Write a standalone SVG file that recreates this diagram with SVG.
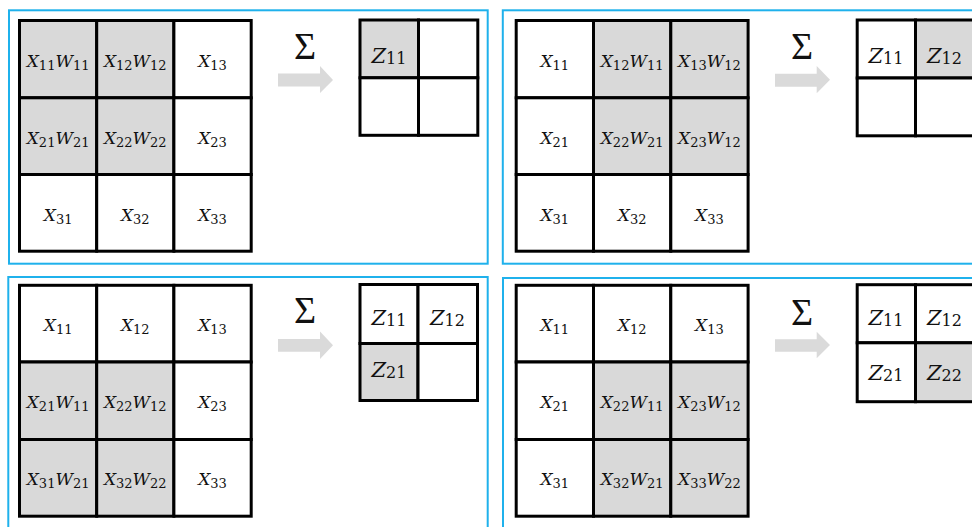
<svg xmlns="http://www.w3.org/2000/svg" width="972" height="527" viewBox="0 0 972 527">
<style>
.panel{fill:#ffffff;stroke:#1fb1ec;stroke-width:2}
.c rect{stroke:#000;stroke-width:3}
.w{fill:#ffffff}
.g{fill:#d9d9d9}
text{font-family:"DejaVu Serif","Liberation Serif",serif;fill:#111}
.t{font-size:17px;font-style:italic;text-anchor:middle}
.t tspan.s{font-size:13px;font-style:normal}
.z{font-size:21px;font-style:italic;text-anchor:middle}
.z tspan.s{font-size:16px;font-style:normal}
.sig{font-family:"Liberation Serif",serif;font-size:38px;text-anchor:middle}
.arr{fill:#dadada}
</style>
<rect width="972" height="527" fill="#fff"/>
<g id="panel1">
<rect class="panel" x="9" y="10.3" width="478.7" height="253.4"/>
<g id="p1-grid" class="c">
<g id="p1-r1c1"><rect class="g" x="19.5" y="20.5" width="77.2" height="77.3"/><text class="t" x="58.1" y="67">X<tspan class="s" dy="3">11</tspan><tspan dy="-3">W</tspan><tspan class="s" dy="3">11</tspan></text></g>
<g id="p1-r1c2"><rect class="g" x="96.7" y="20.5" width="77.2" height="77.3"/><text class="t" x="135.3" y="67">X<tspan class="s" dy="3">12</tspan><tspan dy="-3">W</tspan><tspan class="s" dy="3">12</tspan></text></g>
<g id="p1-r1c3"><rect class="w" x="173.9" y="20.5" width="77.3" height="77.3"/><text class="t" x="212.5" y="67">X<tspan class="s" dy="3">13</tspan></text></g>
<g id="p1-r2c1"><rect class="g" x="19.5" y="97.8" width="77.2" height="76.7"/><text class="t" x="58.1" y="144">X<tspan class="s" dy="3">21</tspan><tspan dy="-3">W</tspan><tspan class="s" dy="3">21</tspan></text></g>
<g id="p1-r2c2"><rect class="g" x="96.7" y="97.8" width="77.2" height="76.7"/><text class="t" x="135.3" y="144">X<tspan class="s" dy="3">22</tspan><tspan dy="-3">W</tspan><tspan class="s" dy="3">22</tspan></text></g>
<g id="p1-r2c3"><rect class="w" x="173.9" y="97.8" width="77.3" height="76.7"/><text class="t" x="212.5" y="144">X<tspan class="s" dy="3">23</tspan></text></g>
<g id="p1-r3c1"><rect class="w" x="19.5" y="174.5" width="77.2" height="76.7"/><text class="t" x="58.1" y="221">X<tspan class="s" dy="3">31</tspan></text></g>
<g id="p1-r3c2"><rect class="w" x="96.7" y="174.5" width="77.2" height="76.7"/><text class="t" x="135.3" y="221">X<tspan class="s" dy="3">32</tspan></text></g>
<g id="p1-r3c3"><rect class="w" x="173.9" y="174.5" width="77.3" height="76.7"/><text class="t" x="212.5" y="221">X<tspan class="s" dy="3">33</tspan></text></g>
</g>
<text class="sig" x="305" y="59">Σ</text>
<g id="p1-z" class="c">
<g id="p1-z11"><rect class="g" x="360" y="20" width="58.5" height="57.8"/><text class="z" x="389" y="63">Z<tspan class="s" dy="1">11</tspan></text></g>
<rect class="w" x="418.5" y="20" width="59.3" height="57.8"/>
<rect class="w" x="360" y="77.8" width="58.5" height="57.5"/>
<rect class="w" x="418.5" y="77.8" width="59.3" height="57.5"/>
</g>
</g>
<g id="panel2">
<rect class="panel" x="502.8" y="10.3" width="480" height="253.4"/>
<g id="p2-grid" class="c">
<g id="p2-r1c1"><rect class="w" x="516.2" y="20.5" width="77.3" height="77.3"/><text class="t" x="554.8" y="67">X<tspan class="s" dy="3">11</tspan></text></g>
<g id="p2-r1c2"><rect class="g" x="593.5" y="20.5" width="77.3" height="77.3"/><text class="t" x="632.1" y="67">X<tspan class="s" dy="3">12</tspan><tspan dy="-3">W</tspan><tspan class="s" dy="3">11</tspan></text></g>
<g id="p2-r1c3"><rect class="g" x="670.8" y="20.5" width="77.3" height="77.3"/><text class="t" x="709.4" y="67">X<tspan class="s" dy="3">13</tspan><tspan dy="-3">W</tspan><tspan class="s" dy="3">12</tspan></text></g>
<g id="p2-r2c1"><rect class="w" x="516.2" y="97.8" width="77.3" height="76.7"/><text class="t" x="554.8" y="144">X<tspan class="s" dy="3">21</tspan></text></g>
<g id="p2-r2c2"><rect class="g" x="593.5" y="97.8" width="77.3" height="76.7"/><text class="t" x="632.1" y="144">X<tspan class="s" dy="3">22</tspan><tspan dy="-3">W</tspan><tspan class="s" dy="3">21</tspan></text></g>
<g id="p2-r2c3"><rect class="g" x="670.8" y="97.8" width="77.3" height="76.7"/><text class="t" x="709.4" y="144">X<tspan class="s" dy="3">23</tspan><tspan dy="-3">W</tspan><tspan class="s" dy="3">12</tspan></text></g>
<g id="p2-r3c1"><rect class="w" x="516.2" y="174.5" width="77.3" height="76.7"/><text class="t" x="554.8" y="221">X<tspan class="s" dy="3">31</tspan></text></g>
<g id="p2-r3c2"><rect class="w" x="593.5" y="174.5" width="77.3" height="76.7"/><text class="t" x="632.1" y="221">X<tspan class="s" dy="3">32</tspan></text></g>
<g id="p2-r3c3"><rect class="w" x="670.8" y="174.5" width="77.3" height="76.7"/><text class="t" x="709.4" y="221">X<tspan class="s" dy="3">33</tspan></text></g>
</g>
<text class="sig" x="802" y="59">Σ</text>
<g id="p2-z" class="c">
<g id="p2-z11"><rect class="w" x="857.2" y="20" width="58.3" height="58"/><text class="z" x="886" y="63">Z<tspan class="s" dy="1">11</tspan></text></g>
<g id="p2-z12"><rect class="g" x="915.5" y="20" width="58.3" height="58"/><text class="z" x="944.5" y="63">Z<tspan class="s" dy="1">12</tspan></text></g>
<rect class="w" x="857.2" y="78" width="58.3" height="57.8"/>
<rect class="w" x="915.5" y="78" width="58.3" height="57.8"/>
</g>
</g>
<g id="panel3">
<rect class="panel" x="8.3" y="277" width="479.4" height="262"/>
<g id="p3-grid" class="c">
<g id="p3-r1c1"><rect class="w" x="19.5" y="285.3" width="77.2" height="76.7"/><text class="t" x="58.1" y="331">X<tspan class="s" dy="3">11</tspan></text></g>
<g id="p3-r1c2"><rect class="w" x="96.7" y="285.3" width="77.2" height="76.7"/><text class="t" x="135.3" y="331">X<tspan class="s" dy="3">12</tspan></text></g>
<g id="p3-r1c3"><rect class="w" x="173.9" y="285.3" width="77.3" height="76.7"/><text class="t" x="212.5" y="331">X<tspan class="s" dy="3">13</tspan></text></g>
<g id="p3-r2c1"><rect class="g" x="19.5" y="362" width="77.2" height="77.5"/><text class="t" x="58.1" y="408">X<tspan class="s" dy="3">21</tspan><tspan dy="-3">W</tspan><tspan class="s" dy="3">11</tspan></text></g>
<g id="p3-r2c2"><rect class="g" x="96.7" y="362" width="77.2" height="77.5"/><text class="t" x="135.3" y="408">X<tspan class="s" dy="3">22</tspan><tspan dy="-3">W</tspan><tspan class="s" dy="3">12</tspan></text></g>
<g id="p3-r2c3"><rect class="w" x="173.9" y="362" width="77.3" height="77.5"/><text class="t" x="212.5" y="408">X<tspan class="s" dy="3">23</tspan></text></g>
<g id="p3-r3c1"><rect class="g" x="19.5" y="439.5" width="77.2" height="76.7"/><text class="t" x="58.1" y="485">X<tspan class="s" dy="3">31</tspan><tspan dy="-3">W</tspan><tspan class="s" dy="3">21</tspan></text></g>
<g id="p3-r3c2"><rect class="g" x="96.7" y="439.5" width="77.2" height="76.7"/><text class="t" x="135.3" y="485">X<tspan class="s" dy="3">32</tspan><tspan dy="-3">W</tspan><tspan class="s" dy="3">22</tspan></text></g>
<g id="p3-r3c3"><rect class="w" x="173.9" y="439.5" width="77.3" height="76.7"/><text class="t" x="212.5" y="485">X<tspan class="s" dy="3">33</tspan></text></g>
</g>
<text class="sig" x="305" y="323">Σ</text>
<g id="p3-z" class="c">
<g id="p3-z11"><rect class="w" x="360" y="284.5" width="58" height="59"/><text class="z" x="389" y="325">Z<tspan class="s" dy="1">11</tspan></text></g>
<g id="p3-z12"><rect class="w" x="418" y="284.5" width="59.5" height="59"/><text class="z" x="447.5" y="325">Z<tspan class="s" dy="1">12</tspan></text></g>
<g id="p3-z21"><rect class="g" x="360" y="343.5" width="58" height="57"/><text class="z" x="389" y="377">Z<tspan class="s" dy="1">21</tspan></text></g>
<rect class="w" x="418" y="343.5" width="59.5" height="57"/>
</g>
</g>
<g id="panel4">
<rect class="panel" x="503" y="278" width="480" height="262"/>
<g id="p4-grid" class="c">
<g id="p4-r1c1"><rect class="w" x="516.2" y="285.3" width="77.3" height="76.7"/><text class="t" x="554.8" y="331">X<tspan class="s" dy="3">11</tspan></text></g>
<g id="p4-r1c2"><rect class="w" x="593.5" y="285.3" width="77.3" height="76.7"/><text class="t" x="632.1" y="331">X<tspan class="s" dy="3">12</tspan></text></g>
<g id="p4-r1c3"><rect class="w" x="670.8" y="285.3" width="77.3" height="76.7"/><text class="t" x="709.4" y="331">X<tspan class="s" dy="3">13</tspan></text></g>
<g id="p4-r2c1"><rect class="w" x="516.2" y="362" width="77.3" height="77.5"/><text class="t" x="554.8" y="408">X<tspan class="s" dy="3">21</tspan></text></g>
<g id="p4-r2c2"><rect class="g" x="593.5" y="362" width="77.3" height="77.5"/><text class="t" x="632.1" y="408">X<tspan class="s" dy="3">22</tspan><tspan dy="-3">W</tspan><tspan class="s" dy="3">11</tspan></text></g>
<g id="p4-r2c3"><rect class="g" x="670.8" y="362" width="77.3" height="77.5"/><text class="t" x="709.4" y="408">X<tspan class="s" dy="3">23</tspan><tspan dy="-3">W</tspan><tspan class="s" dy="3">12</tspan></text></g>
<g id="p4-r3c1"><rect class="w" x="516.2" y="439.5" width="77.3" height="76.7"/><text class="t" x="554.8" y="485">X<tspan class="s" dy="3">31</tspan></text></g>
<g id="p4-r3c2"><rect class="g" x="593.5" y="439.5" width="77.3" height="76.7"/><text class="t" x="632.1" y="485">X<tspan class="s" dy="3">32</tspan><tspan dy="-3">W</tspan><tspan class="s" dy="3">21</tspan></text></g>
<g id="p4-r3c3"><rect class="g" x="670.8" y="439.5" width="77.3" height="76.7"/><text class="t" x="709.4" y="485">X<tspan class="s" dy="3">33</tspan><tspan dy="-3">W</tspan><tspan class="s" dy="3">22</tspan></text></g>
</g>
<text class="sig" x="802" y="325">Σ</text>
<g id="p4-z" class="c">
<g id="p4-z11"><rect class="w" x="857.2" y="284.7" width="58.3" height="58.1"/><text class="z" x="886" y="325">Z<tspan class="s" dy="1">11</tspan></text></g>
<g id="p4-z12"><rect class="w" x="915.5" y="284.7" width="58.3" height="58.1"/><text class="z" x="944.5" y="325">Z<tspan class="s" dy="1">12</tspan></text></g>
<g id="p4-z21"><rect class="w" x="857.2" y="342.8" width="58.3" height="58.9"/><text class="z" x="886" y="380">Z<tspan class="s" dy="1">21</tspan></text></g>
<g id="p4-z22"><rect class="g" x="915.5" y="342.8" width="58.3" height="58.9"/><text class="z" x="944.5" y="380">Z<tspan class="s" dy="1">22</tspan></text></g>
</g>
</g>
<g id="connectors">
<path class="arr" d="M278 73.5H320V66L333 80L320 93V86.5H278Z"/>
<path class="arr" d="M775 73.8H816.7V66L830 79.7L816.7 93.3V86.8H775Z"/>
<path class="arr" d="M278 339H320V331.5L333 345.3L320 359V351.7H278Z"/>
<path class="arr" d="M775 339.3H816.7V331.7L830 345L816.7 358.3V351.7H775Z"/>
</g>
</svg>
